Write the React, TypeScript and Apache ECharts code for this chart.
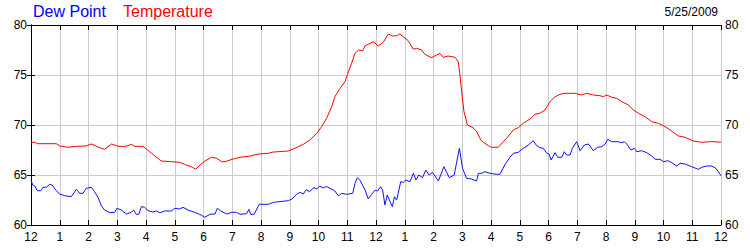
import React, { useEffect, useRef } from "react";
import * as echarts from "echarts";

const dateLabel = "5/25/2009";
const seriesNames = ["Dew Point", "Temperature"];
const hourTicks = [0, 1, 2, 3, 4, 5, 6, 7, 8, 9, 10, 11, 12, 13, 14, 15, 16, 17, 18, 19, 20, 21, 22, 23, 24];
const yTicks = [60, 65, 70, 75, 80];

const tempHours = [
  0, 0.13, 0.22, 0.88, 1.0, 1.29, 1.58, 1.92, 2.1, 2.33, 2.56, 2.8, 3.03, 3.3, 3.49, 3.6, 3.9,
  4.19, 4.53, 4.88, 5.17, 5.34, 5.57, 5.73, 5.88, 6.05, 6.28, 6.46, 6.63, 6.75, 6.92, 7.04, 7.27,
  7.62, 7.91, 8.26, 8.43, 8.95, 9.18, 9.47, 9.7, 9.94, 10.11, 10.28, 10.46, 10.57, 10.75, 10.92,
  11.04, 11.15, 11.27, 11.39, 11.54, 11.62, 11.73, 11.91, 12.08, 12.25, 12.43, 12.58, 12.72, 12.83,
  12.95, 13.12, 13.3, 13.41, 13.59, 13.7, 13.93, 14.11, 14.22, 14.34, 14.51, 14.75, 14.86, 14.92,
  14.98, 15.06, 15.18, 15.38, 15.5, 15.67, 15.91, 16.02, 16.25, 16.43, 16.54, 16.78, 16.95, 17.12,
  17.36, 17.53, 17.7, 17.88, 18.05, 18.23, 18.4, 18.58, 18.92, 19.15, 19.33, 19.56, 19.79, 19.91,
  20.02, 20.2, 20.37, 20.55, 20.78, 20.95, 21.13, 21.36, 21.59, 21.82, 22.0, 22.23, 22.52, 22.75,
  23.04, 23.33, 23.62, 23.79, 24.0,
];
const tempValues = [
  68.27, 68.27, 68.13, 68.13, 67.9, 67.77, 67.87, 67.9, 68.1, 67.8, 67.57, 68.1, 67.87, 67.87, 68.06, 67.87, 67.87,
  67.17, 66.4, 66.33, 66.27, 66.07, 65.83, 65.57, 66.0, 66.4, 66.77, 66.67, 66.33, 66.33, 66.5, 66.6, 66.77,
  66.9, 67.1, 67.17, 67.3, 67.4, 67.67, 68.07, 68.5, 69.17, 69.83, 70.67, 71.83, 72.83, 73.67, 74.33,
  75.33, 76.17, 77.17, 77.5, 77.43, 77.93, 78.07, 78.33, 77.9, 78.27, 79.1, 78.9, 78.93, 79.1,
  78.83, 78.43, 77.57, 77.67, 77.5, 77.07, 76.73, 77.0, 77.17, 76.77, 76.9, 76.77, 76.33, 75.0,
  73.33, 71.33, 70.0, 69.73, 69.33, 68.4, 67.93, 67.77, 67.77, 68.33, 68.67, 69.5, 69.73, 70.17,
  70.6, 71.07, 71.17, 71.5, 72.33, 72.83, 73.07, 73.17, 73.17, 73.0, 73.17, 73.0, 72.93, 72.83,
  73.0, 72.77, 72.67, 72.33, 72.0, 71.5, 71.17, 70.83, 70.33, 70.17, 69.93, 69.5, 68.9, 68.77,
  68.4, 68.27, 68.33, 68.33, 68.27,
];

const dewHours = [
  0, 0.06, 0.13, 0.22, 0.34, 0.42, 0.53, 0.65, 0.73, 0.88, 1.0, 1.17, 1.4, 1.58, 1.69, 1.81, 1.92,
  2.1, 2.21, 2.33, 2.45, 2.56, 2.74, 2.91, 2.99, 3.14, 3.32, 3.49, 3.57, 3.66, 3.75, 3.84, 3.95,
  4.07, 4.24, 4.36, 4.48, 4.65, 4.88, 5.0, 5.17, 5.29, 5.46, 5.69, 5.92, 6.04, 6.23, 6.4, 6.48,
  6.6, 6.81, 6.98, 7.15, 7.27, 7.5, 7.58, 7.64, 7.76, 7.94, 8.26, 8.43, 8.95, 9.07, 9.24, 9.36,
  9.47, 9.57, 9.68, 9.84, 9.94, 10.03, 10.17, 10.28, 10.4, 10.57, 10.69, 10.81, 10.98, 11.19,
  11.27, 11.35, 11.44, 11.62, 11.73, 11.85, 11.97, 12.05, 12.16, 12.23, 12.31, 12.39, 12.49,
  12.57, 12.64, 12.72, 12.86, 12.95, 13.04, 13.18, 13.3, 13.39, 13.49, 13.62, 13.73, 13.85,
  13.96, 14.17, 14.36, 14.55, 14.72, 14.9, 15.01, 15.15, 15.33, 15.5, 15.56, 15.67, 15.79, 15.96,
  16.2, 16.31, 16.49, 16.66, 16.78, 16.95, 17.12, 17.3, 17.47, 17.59, 17.7, 17.82, 17.94, 18.02,
  18.09, 18.23, 18.32, 18.46, 18.55, 18.63, 18.75, 18.83, 18.98, 19.1, 19.25, 19.39, 19.56, 19.71,
  19.85, 19.97, 20.06, 20.2, 20.43, 20.55, 20.64, 20.72, 20.87, 20.99, 21.07, 21.24, 21.42, 21.59,
  21.71, 21.88, 22.0, 22.15, 22.29, 22.46, 22.58, 22.75, 22.98, 23.21, 23.33, 23.5, 23.68, 23.82,
  23.91, 24.0,
];
const dewValues = [
  64.5, 64.0, 63.9, 63.43, 63.43, 63.77, 63.77, 64.07, 64.0, 63.43, 63.1, 62.93, 62.83, 63.57, 63.17, 63.17, 63.67,
  63.77, 63.33, 62.77, 61.9, 61.5, 61.23, 61.27, 61.67, 61.5, 61.1, 61.27, 61.5, 61.07, 61.07, 61.83, 61.77,
  61.43, 61.3, 61.4, 61.23, 61.4, 61.4, 61.67, 61.6, 61.77, 61.5, 61.27, 61.0, 60.77, 61.07, 61.1, 61.67,
  61.4, 61.1, 61.27, 61.27, 61.07, 61.13, 61.57, 61.07, 61.07, 62.07, 62.07, 62.27, 62.43, 62.6, 63.07, 63.27,
  63.1, 63.53, 63.33, 63.73, 63.6, 63.87, 63.73, 63.85, 63.67, 63.4, 62.93, 63.17, 63.07, 63.17,
  64.17, 64.73, 64.5, 63.5, 62.6, 63.07, 63.5, 63.4, 63.83, 63.5, 62.0, 63.0, 62.33,
  61.83, 62.83, 62.5, 64.33, 64.27, 64.5, 64.33, 65.17, 64.5, 65.0, 64.73, 65.5, 65.0,
  65.27, 64.4, 65.83, 64.73, 65.0, 67.67, 65.67, 64.67, 64.6, 64.4, 65.17, 65.17, 65.33, 65.17,
  65.07, 65.07, 66.07, 66.77, 67.17, 67.27, 67.67, 68.0, 68.43, 67.93, 67.73, 67.67, 67.17, 67.1,
  66.5, 67.23, 66.77, 66.77, 67.33, 67.0, 67.0, 67.67, 68.33, 67.43, 68.0, 68.1, 67.43, 67.77,
  67.83, 68.1, 68.57, 68.33, 68.33, 68.23, 68.33, 68.1, 67.5, 67.67, 67.33, 67.43, 67.23, 66.9,
  66.57, 66.57, 66.33, 66.43, 66.23, 65.9, 66.17, 66.1, 65.83, 65.57, 65.77, 65.9, 65.9, 65.67,
  65.33, 64.93,
];

const hourLabel = (v: number) => {
  const h = Math.round(v) % 12;
  return String(h === 0 ? 12 : h);
};

export default function App() {
  const ref = useRef<HTMLDivElement>(null);
  useEffect(() => {
    if (!ref.current) return;
    const chart = echarts.init(ref.current, null, { renderer: "svg" });
    const font = "Liberation Sans, Arial, sans-serif";
    const dew = dewHours.map((h, i) => [h, dewValues[i]]);
    const temp = tempHours.map((h, i) => [h, tempValues[i]]);
    const xMin = hourTicks[0];
    const xMax = hourTicks[hourTicks.length - 1];
    const yMin = yTicks[0];
    const yMax = yTicks[yTicks.length - 1];
    chart.setOption({
      animation: false,
      backgroundColor: "#ffffff",
      textStyle: { fontFamily: font },
      grid: { left: 31, right: 29, top: 25, bottom: 25, containLabel: false },
      graphic: [
        {
          type: "text",
          left: 33,
          top: 3,
          style: { text: seriesNames[0], fill: "#0000ff", font: `16px ${font}` },
        },
        {
          type: "text",
          left: 123,
          top: 3,
          style: { text: seriesNames[1], fill: "#ff0000", font: `16px ${font}` },
        },
        {
          type: "text",
          right: 32,
          top: 6,
          style: { text: dateLabel, fill: "#000000", font: `12px ${font}` },
        },
      ],
      xAxis: [
        {
          type: "value",
          min: xMin,
          max: xMax,
          interval: 1,
          position: "bottom",
          axisLine: { show: true, lineStyle: { color: "#000", width: 1 } },
          axisTick: { show: true, inside: true, length: 5, lineStyle: { color: "#000" } },
          axisLabel: { formatter: hourLabel, color: "#000", fontSize: 12, margin: 6, fontFamily: font },
          splitLine: { show: true, lineStyle: { color: "#cccccc", width: 1 } },
        },
        {
          type: "value",
          min: xMin,
          max: xMax,
          interval: 1,
          position: "top",
          axisLine: { show: true, lineStyle: { color: "#000", width: 1 } },
          axisTick: { show: true, inside: true, length: 5, lineStyle: { color: "#000" } },
          axisLabel: { show: false },
          splitLine: { show: false },
        },
      ],
      yAxis: [
        {
          type: "value",
          min: yMin,
          max: yMax,
          interval: 5,
          position: "left",
          axisLine: { show: true, lineStyle: { color: "#000", width: 1 } },
          axisTick: { show: true, inside: false, length: 4, lineStyle: { color: "#000" } },
          axisLabel: { color: "#000", fontSize: 12, margin: 4, fontFamily: font },
          splitLine: { show: true, lineStyle: { color: "#cccccc", width: 1 } },
        },
        {
          type: "value",
          min: yMin,
          max: yMax,
          interval: 5,
          position: "right",
          axisLine: { show: true, lineStyle: { color: "#000", width: 1 } },
          axisTick: { show: true, inside: false, length: 4, lineStyle: { color: "#000" } },
          axisLabel: { color: "#000", fontSize: 12, margin: 4, fontFamily: font },
          splitLine: { show: false },
        },
      ],
      series: [
        {
          name: seriesNames[0],
          type: "line",
          data: dew,
          showSymbol: false,
          lineStyle: { color: "#1010ff", width: 1 },
          itemStyle: { color: "#1010ff" },
          z: 3,
        },
        {
          name: seriesNames[1],
          type: "line",
          data: temp,
          showSymbol: false,
          lineStyle: { color: "#ff0000", width: 1 },
          itemStyle: { color: "#ff0000" },
          z: 4,
        },
      ],
    });
    return () => chart.dispose();
  }, []);
  return <div ref={ref} style={{ width: 750, height: 250, position: "absolute", left: 0, top: 0 }} />;
}
